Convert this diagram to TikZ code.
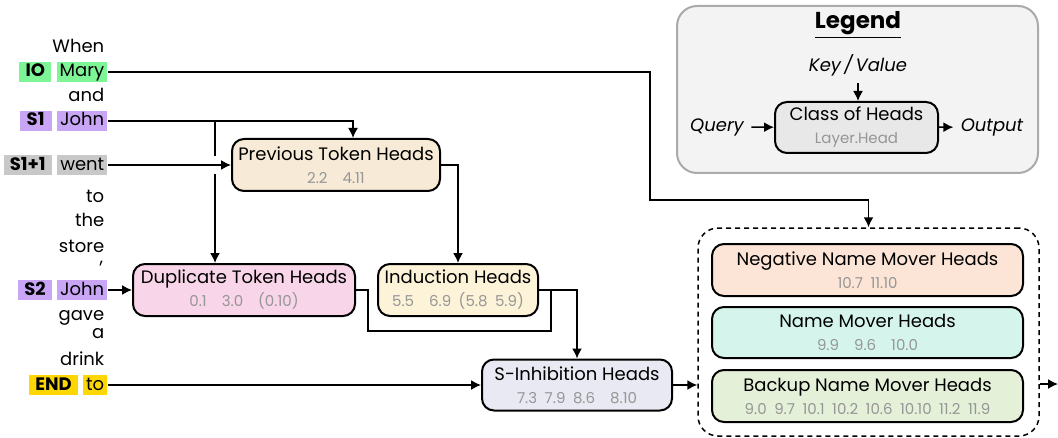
\documentclass[tikz,border=0pt]{standalone}
\usepackage{fontspec}
\setmainfont{Poppins}
\usetikzlibrary{arrows.meta, shapes, positioning}

\definecolor{iogreen}{RGB}{125,245,150}
\definecolor{spurple}{RGB}{200,165,245}
\definecolor{wentgray}{RGB}{200,200,200}
\definecolor{endgold}{RGB}{255,215,0}
\definecolor{prevfill}{RGB}{247,235,215}
\definecolor{dupfill}{RGB}{248,213,232}
\definecolor{indfill}{RGB}{253,243,216}
\definecolor{sinhfill}{RGB}{233,233,243}
\definecolor{negfill}{RGB}{252,229,214}
\definecolor{nmfill}{RGB}{213,245,236}
\definecolor{bkfill}{RGB}{229,240,216}
\definecolor{legfill}{RGB}{243,243,243}
\definecolor{legdraw}{RGB}{170,170,170}
\definecolor{classfill}{RGB}{232,232,232}
\definecolor{numgray}{RGB}{150,150,150}

\newcommand{\hnum}[1]{{\fontsize{7.5}{8}\selectfont\color{numgray}#1}}
\newcommand{\hsp}{\hspace{0.5em}}

\begin{document}
\begin{tikzpicture}[x=0.5pt, y=-0.5pt, line width=0.75pt,
	>={Latex[length=5pt,width=5pt]},
	word/.style={anchor=east, inner xsep=1pt, inner ysep=0pt, text height=7pt, text depth=2pt, font=\fontsize{9}{10}\selectfont},
	tok/.style={word, inner xsep=1.5pt, inner ysep=0.5pt},
	tag/.style={tok, font=\fontsize{9}{10}\selectfont\bfseries, minimum width=16pt, inner xsep=3pt},
	heads/.style={draw, rounded corners=6pt, line width=1pt, align=center, minimum height=26pt, inner sep=0pt, font=\fontsize{9}{11.5}\selectfont},
	note/.style={font=\fontsize{9}{10}\selectfont\itshape}]

	\useasboundingbox (0,0) rectangle (1058,438);

	%sentence
	\node[word] (w1)		at (107,48)	{When};
	\node[tok, fill=iogreen] (mary)	at (108,72)	{Mary};
	\node[tag, fill=iogreen, left=2pt of mary] (io) {IO};
	\node[word] (w3)		at (107,97)	{and};
	\node[tok, fill=spurple] (john1)	at (108,121)	{John};
	\node[tag, fill=spurple, left=2pt of john1] (s1) {S1};
	\node[tok, fill=wentgray] (went)	at (108,165)	{went};
	\node[tag, fill=wentgray, left=2pt of went] (s1p) {S1+1};
	\node[word] (w6)		at (107,198)	{to};
	\node[word] (w7)		at (107,222)	{the};
	\node[word, text depth=1pt] (w8) at (107,246)	{store};
	\node[word, anchor=base east, text height=1pt, text depth=1.5pt] (w9) at (106,263) {,};
	\node[tok, fill=spurple] (john2)	at (108,290)	{John};
	\node[tag, fill=spurple, left=2pt of john2] (s2) {S2};
	\node[word] (w11)		at (107,315)	{gave};
	\node[word] (w12)		at (107,333)	{a};
	\node[word] (w13)		at (107,360)	{drink};
	\node[tok, fill=endgold] (endto)	at (108,385)	{to};
	\node[tag, fill=endgold, left=2pt of endto] (endtag) {END};

	%heads
	\node[heads, fill=prevfill, minimum width=104pt] (prev)	at (336,165)	{Previous Token Heads\\\hnum{2.2\hsp\hsp 4.11}};
	\node[heads, fill=dupfill, minimum width=111pt] (dup)	at (244,290)	{Duplicate Token Heads\\\hnum{0.1\hsp\hsp 3.0\hsp\hsp (0.10)}};
	\node[heads, fill=indfill, minimum width=80pt] (ind)	at (458,290)	{Induction Heads\\\hnum{5.5\hsp\hsp 6.9\hsp (5.8\hsp 5.9)}};
	\node[heads, fill=sinhfill, minimum width=95pt, minimum height=25.5pt] (sinh) at (577,385) {S-Inhibition Heads\\\hnum{7.3\hsp 7.9\hsp 8.6\hsp\hsp 8.10}};

	%name movers
	\node[draw, dash pattern=on 2.5pt off 2pt, rounded corners=10pt, minimum width=170.5pt, minimum height=104pt] (group) at (868.5,332) {};
	\node[heads, fill=negfill, minimum width=155.5pt] (neg)	at (867.5,270)	{Negative Name Mover Heads\\\hnum{10.7\hsp 11.10}};
	\node[heads, fill=nmfill, minimum width=155.5pt, minimum height=25.5pt] (nm) at (867.5,332.5) {Name Mover Heads\\\hnum{9.9\hsp\hsp 9.6\hsp\hsp 10.0}};
	\node[heads, fill=bkfill, minimum width=155.5pt] (backup) at (867.5,396) {Backup Name Mover Heads\\\hnum{9.0\hsp 9.7\hsp 10.1\hsp 10.2\hsp 10.6\hsp 10.10\hsp 11.2\hsp 11.9}};

	\coordinate (turn)	at (650,200);
	\coordinate (split)	at (215,121);
	\coordinate (merge)	at (551,290);
	\coordinate (out)	at (1058,384);

	\draw[->] (mary) -| (turn) -| (group.north);
	\draw[->] (john1) -| ([xshift=8.5pt]prev.north);
	\draw[->] (split) -- (split |- dup.north);
	\draw[->, preaction={draw=white, line width=9pt}] (went) -- (prev);
	\draw[->] (prev.east) -| (ind.north);
	\draw[->] (john2) -- (dup);
	\draw (dup.east) -- ++(12,0) |- ([yshift=-20.5pt]merge) -- (merge);
	\draw[->] (ind.east) -| (sinh.north);
	\draw[->] (endto) -- (sinh);
	\draw[->] (sinh.east) -- (group.west |- sinh.east);
	\draw[->] (group.east |- out) -- (out);

	%legend
	\node[draw=legdraw, fill=legfill, rounded corners=10pt, line width=1pt, minimum width=180.5pt, minimum height=83.5pt] (legend) at (857.5,89.5) {};
	\node[font=\fontsize{11.5}{12}\selectfont\bfseries] (legtitle) at (858,25) {\underline{Legend}};
	\node[note] (kv) at (858,65) {Key\,/\,Value};
	\node[heads, fill=classfill, minimum width=81.5pt, minimum height=25.5pt] (class) at (856.5,127.5) {Class of Heads\\\hnum{Layer.Head}};
	\node[note] (query) at (717,127) {Query};
	\node[note] (output) at (992,127) {Output};

	\draw[->] (kv.south) -- (kv.south |- class.north);
	\draw[->] (query) -- (class);
	\draw[->] (class) -- (output);

\end{tikzpicture}
\end{document}
